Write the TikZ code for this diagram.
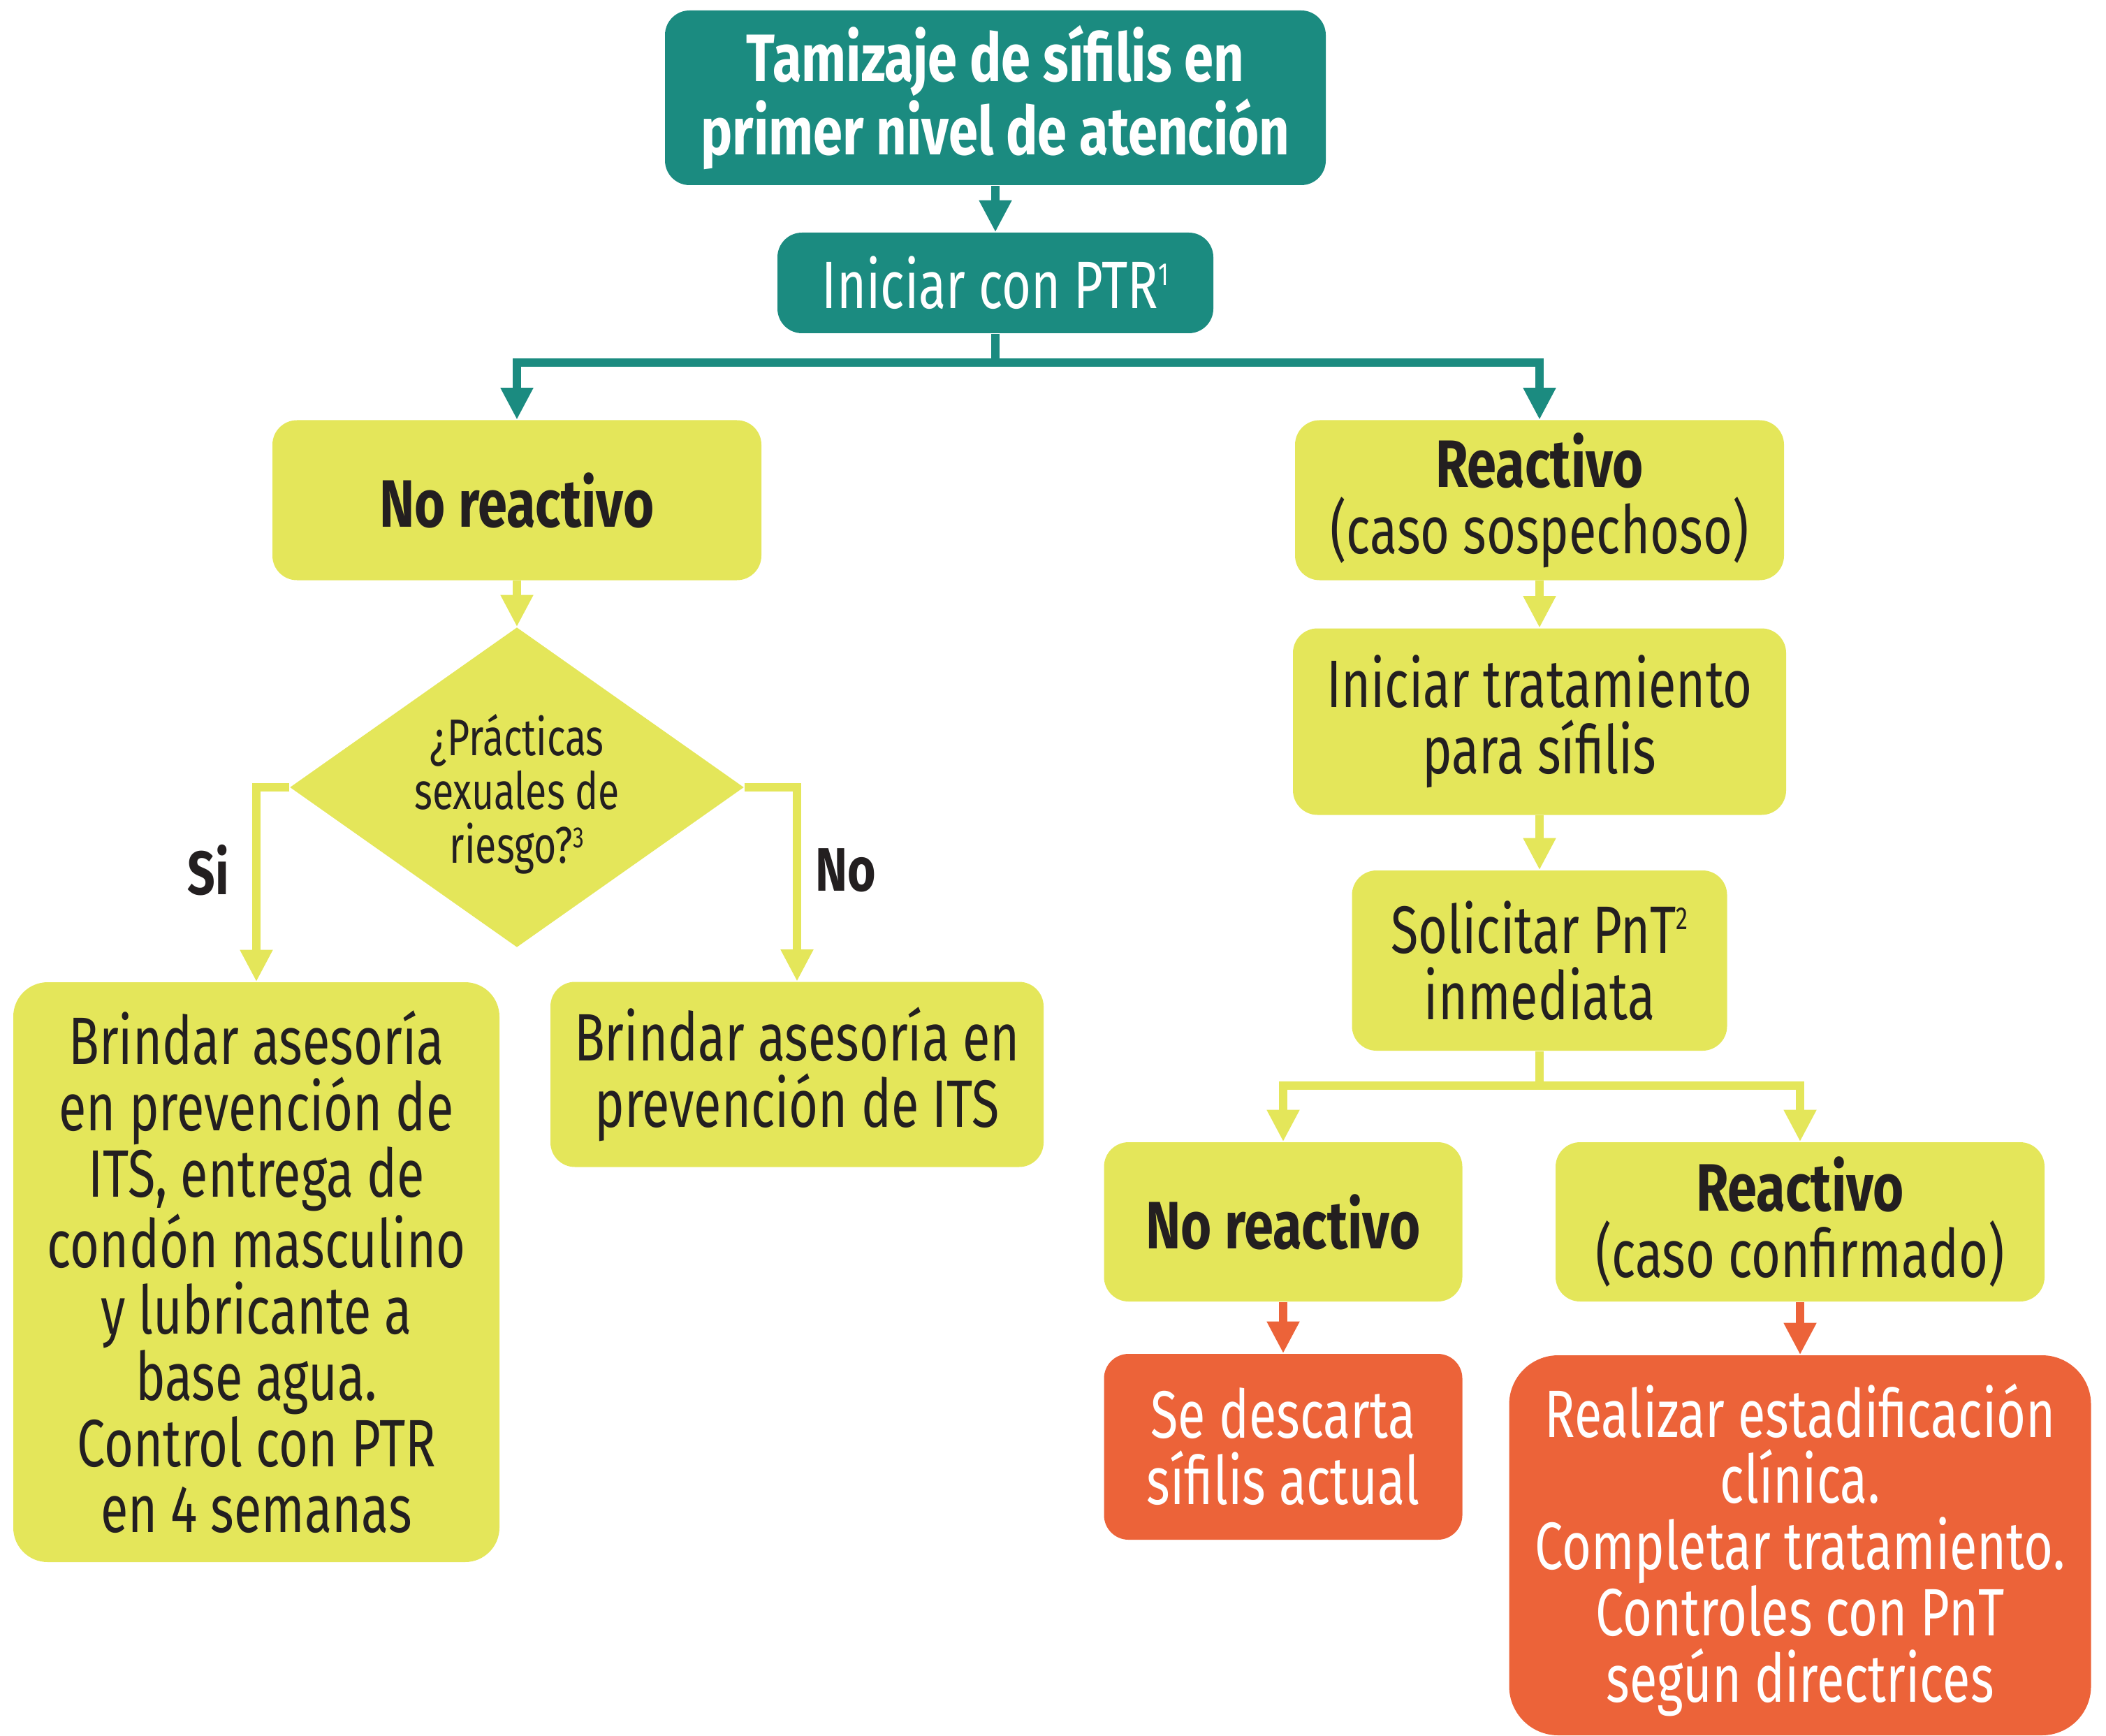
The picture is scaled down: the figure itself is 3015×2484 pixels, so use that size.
\documentclass[tikz,border=0pt]{standalone}
\usepackage{fontspec}
\setmainfont[FakeStretch=0.75,BoldFeatures={FakeStretch=0.79}]{Fira Sans}
\usetikzlibrary{arrows.meta,shapes.geometric}
\definecolor{tealbox}{HTML}{1B8B80}
\definecolor{limebox}{HTML}{E4E65A}
\definecolor{redbox}{HTML}{EC6339}
\definecolor{ink}{HTML}{231F20}
% small raised footnote numbers, top aligned with the capitals
\newcommand\refmark[1]{\raisebox{9.6pt}{\fontsize{13pt}{13pt}\selectfont #1}}
\newcommand\smallrefmark[1]{\raisebox{6.2pt}{\fontsize{12pt}{12pt}\selectfont #1}}
\tikzset{
  box/.style={rectangle, rounded corners=10pt, inner sep=0pt, align=center,
    font=\fontsize{27.3pt}{27pt}\selectfont},
  tealnode/.style={box, fill=tealbox, text=white},
  limenode/.style={box, fill=limebox, text=ink},
  rednode/.style={box, fill=redbox, text=white},
  tip/.tip={Triangle[width=12.5pt,length=13pt]},
  wire/.style={line width=3.2pt, line join=miter},
  onehead/.style={wire, -tip},
  twoheads/.style={wire, tip-tip},
  answer/.style={font=\fontsize{25pt}{25pt}\selectfont\bfseries, text=ink, inner sep=0pt}
}
\begin{document}
\begin{tikzpicture}[x=0.1mm,y=-0.1mm]
\useasboundingbox (0,0) rectangle (3015,2484);

% boxes
\node[tealnode, minimum width=94.6mm, minimum height=25mm] (top) at (1425,140)
  {\bfseries Tamizaje de sífilis en\\\bfseries primer nivel de atención};
\node[tealnode, minimum width=62.4mm, minimum height=14.4mm] (ptr) at (1425,405)
  {Iniciar con PTR\refmark{1}};
\node[limenode, minimum width=70mm, minimum height=22.9mm] (nr1) at (740,716)
  {\bfseries No reactivo};
\node[limenode, minimum width=70mm, minimum height=22.9mm] (r1) at (2204,716)
  {\bfseries Reactivo\\(caso sospechoso)};
% decision diamond and its question
\node[diamond, fill=limebox, inner sep=0pt,
  minimum width=65mm, minimum height=45.8mm] (dia) at (740,1127) {};
\node[text=ink, inner sep=0pt, align=center,
  font=\fontsize{21pt}{21.9pt}\selectfont] (question) at ([yshift=-1mm]dia.center)
  {¿Prácticas\\sexuales de\\riesgo?\smallrefmark{3}};
\node[limenode, rounded corners=14pt, minimum width=69.6mm, minimum height=83mm] (big) at (367,1821)
  {Brindar asesoría\\en prevención de\\ITS, entrega de\\condón masculino\\y lubricante a\\base agua.\\Control con PTR\\en 4 semanas};
\node[limenode, minimum width=70.6mm, minimum height=26.5mm] (mid) at (1141,1538)
  {Brindar asesoría en\\prevención de ITS};
\node[limenode, minimum width=70.6mm, minimum height=26.7mm] (trat) at (2204,1033)
  {Iniciar tratamiento\\para sífilis};
\node[limenode, minimum width=53.7mm, minimum height=25.8mm] (pnt) at (2204,1375)
  {Solicitar PnT\refmark{2}\\inmediata};
\node[limenode, minimum width=51.3mm, minimum height=22.8mm] (nr2) at (1837,1749)
  {\bfseries No reactivo};
\node[limenode, minimum width=70mm, minimum height=22.8mm] (r2) at (2577,1749)
  {\bfseries Reactivo\\(caso confirmado)};
\node[rednode, minimum width=51.3mm, minimum height=26.6mm] (desc) at (1837,2071)
  {Se descarta\\sífilis actual};
\node[rednode, rounded corners=20pt, minimum width=83.3mm, minimum height=54.4mm] (real) at (2577,2212)
  {\rule{0pt}{9mm}Realizar estadificación\\clínica.\\Completar tratamiento.\\Controles con PnT\\según directrices};

% branch labels
\node[answer] (si) at (298,1246) {Si};
\node[answer] (no) at (1211,1246) {No};

% connectors
\coordinate (tsplit) at (1425,519);
\coordinate (ysplit) at (2204,1554);
\begin{scope}[draw=tealbox]
  \draw[onehead] (top) -- (ptr);
  \draw[wire] (ptr.south) -- (tsplit);
  \draw[twoheads] (nr1.north) |- (tsplit) -| (r1.north);
\end{scope}
\begin{scope}[draw=limebox]
  \draw[onehead] (nr1) -- (dia.north);
  \draw[onehead] (dia.west) -| (big.north);
  \draw[onehead] (dia.east) -| (mid.north);
  \draw[onehead] (r1) -- (trat);
  \draw[onehead] (trat) -- (pnt);
  \draw[wire] (pnt.south) -- (ysplit);
  \draw[twoheads] (nr2.north) |- (ysplit) -| (r2.north);
\end{scope}
\begin{scope}[draw=redbox]
  \draw[onehead] (nr2) -- (desc);
  \draw[onehead] (r2) -- (real);
\end{scope}
\end{tikzpicture}
\end{document}
